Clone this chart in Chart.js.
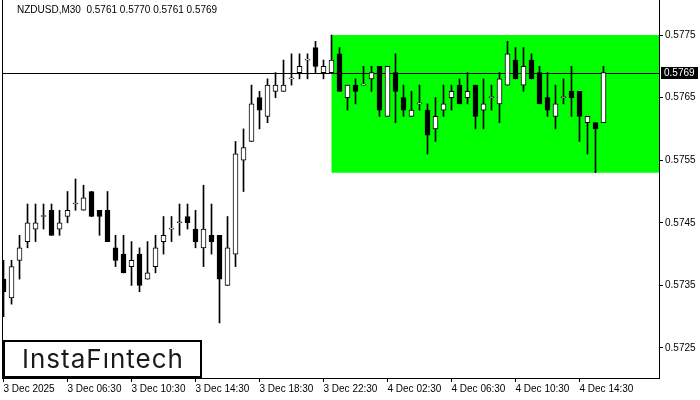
<!DOCTYPE html>
<html>
<head>
<meta charset="utf-8">
<script src="https://cdn.jsdelivr.net/npm/chart.js@4.4.0/dist/chart.umd.min.js"></script>
<style>
    html, body { margin: 0; padding: 0; background: #fff; }
</style>
</head>
<body>
<canvas id="candleChart" width="700" height="400"></canvas>
<script>
const chartTitle = 'NZDUSD,M30  0.5761 0.5770 0.5761 0.5769';
const logoText = 'InstaF\u0131ntech';

// time labels, one every 8 bars (4 hours of M30)
const xLabels = ['3 Dec 2025', '3 Dec 06:30', '3 Dec 10:30', '3 Dec 14:30', '3 Dec 18:30',
                 '3 Dec 22:30', '4 Dec 02:30', '4 Dec 06:30', '4 Dec 10:30', '4 Dec 14:30'];
const labelEvery = 8;
const yTicks = [0.5725, 0.5735, 0.5745, 0.5755, 0.5765, 0.5775];

const opens  = [0.5736, 0.5733, 0.5739, 0.5742, 0.5744, 0.5746, 0.5747, 0.5744, 0.5746, 0.5748,
                0.5747, 0.5750, 0.5747, 0.5747, 0.5741, 0.5740, 0.5738, 0.5740, 0.5736, 0.5738,
                0.5742, 0.5744, 0.5745, 0.5746, 0.5744, 0.5741, 0.5743, 0.5743, 0.5735, 0.5740,
                0.5755, 0.5758, 0.5765, 0.5762, 0.5766, 0.5766, 0.5768, 0.5769, 0.5771, 0.5773,
                0.5769, 0.5769, 0.5772, 0.5765, 0.5767, 0.5767, 0.5768, 0.5770, 0.5762, 0.5769,
                0.5765, 0.5762, 0.5764, 0.5763, 0.5760, 0.5763, 0.5765, 0.5767, 0.5765, 0.5767,
                0.5763, 0.5765, 0.5764, 0.5767, 0.5771, 0.5767, 0.5771, 0.5769, 0.5765, 0.5762,
                0.5765, 0.5766, 0.5766, 0.5761, 0.5761, 0.5761];
const highs  = [0.5739, 0.5739, 0.5743, 0.5748, 0.5748, 0.5748, 0.5748, 0.5747, 0.5750, 0.5752,
                0.5751, 0.5750, 0.5747, 0.5750, 0.5743, 0.5743, 0.5742, 0.5741, 0.5742, 0.5743,
                0.5746, 0.5746, 0.5748, 0.5748, 0.5747, 0.5751, 0.5748, 0.5743, 0.5746, 0.5758,
                0.5760, 0.5767, 0.5766, 0.5768, 0.5769, 0.5771, 0.5772, 0.5772, 0.5772, 0.5774,
                0.5771, 0.5775, 0.5773, 0.5767, 0.5768, 0.5770, 0.5770, 0.5770, 0.5770, 0.5772,
                0.5767, 0.5766, 0.5767, 0.5764, 0.5765, 0.5767, 0.5767, 0.5768, 0.5769, 0.5767,
                0.5768, 0.5767, 0.5769, 0.5774, 0.5773, 0.5773, 0.5772, 0.5770, 0.5769, 0.5767,
                0.5768, 0.5770, 0.5766, 0.5762, 0.5761, 0.5770];
const lows   = [0.5730, 0.5732, 0.5736, 0.5741, 0.5742, 0.5744, 0.5743, 0.5743, 0.5745, 0.5747,
                0.5747, 0.5746, 0.5743, 0.5742, 0.5738, 0.5737, 0.5735, 0.5734, 0.5736, 0.5737,
                0.5740, 0.5742, 0.5743, 0.5744, 0.5741, 0.5738, 0.5740, 0.5729, 0.5735, 0.5738,
                0.5750, 0.5758, 0.5760, 0.5761, 0.5765, 0.5766, 0.5767, 0.5768, 0.5768, 0.5769,
                0.5768, 0.5769, 0.5766, 0.5763, 0.5764, 0.5767, 0.5766, 0.5762, 0.5762, 0.5761,
                0.5762, 0.5762, 0.5763, 0.5756, 0.5758, 0.5762, 0.5763, 0.5764, 0.5764, 0.5760,
                0.5760, 0.5763, 0.5761, 0.5767, 0.5768, 0.5766, 0.5768, 0.5764, 0.5762, 0.5760,
                0.5764, 0.5762, 0.5758, 0.5756, 0.5753, 0.5761];
const closes = [0.5734, 0.5738, 0.5741, 0.5745, 0.5745, 0.5746, 0.5743, 0.5745, 0.5747, 0.5748,
                0.5749, 0.5746, 0.5746, 0.5742, 0.5739, 0.5737, 0.5739, 0.5735, 0.5737, 0.5741,
                0.5743, 0.5744, 0.5745, 0.5745, 0.5742, 0.5744, 0.5742, 0.5736, 0.5741, 0.5756,
                0.5757, 0.5764, 0.5763, 0.5767, 0.5767, 0.5767, 0.5768, 0.5770, 0.5771, 0.5770,
                0.5770, 0.5771, 0.5766, 0.5767, 0.5766, 0.5767, 0.5769, 0.5763, 0.5770, 0.5766,
                0.5763, 0.5763, 0.5764, 0.5759, 0.5762, 0.5764, 0.5766, 0.5764, 0.5766, 0.5762,
                0.5764, 0.5765, 0.5768, 0.5772, 0.5768, 0.5770, 0.5768, 0.5764, 0.5763, 0.5764,
                0.5765, 0.5765, 0.5762, 0.5762, 0.5760, 0.5769];

// rectangle pattern zone
const zoneStart = 41;
const zoneTop = 0.5775;
const zoneBottom = 0.5753;

const lastClose = closes[closes.length - 1];
const axisFont = { family: 'Liberation Sans', size: 10 };

const overlayPlugin = {
    id: 'mt4Overlay',
    beforeDatasetsDraw(chart) {
        const { ctx, chartArea, scales } = chart;
        ctx.save();
        // green zone
        const x1 = scales.x.getPixelForValue(zoneStart);
        const yT = scales.y.getPixelForValue(zoneTop);
        const yB = scales.y.getPixelForValue(zoneBottom);
        ctx.fillStyle = '#00ff00';
        ctx.fillRect(x1, yT, chartArea.right - x1, yB - yT);
        // bid line
        const yl = Math.round(scales.y.getPixelForValue(lastClose)) + 0.5;
        ctx.strokeStyle = '#000';
        ctx.lineWidth = 1;
        ctx.beginPath();
        ctx.moveTo(chartArea.left, yl);
        ctx.lineTo(chartArea.right, yl);
        // left frame
        ctx.moveTo(chartArea.left + 0.5, chartArea.top);
        ctx.lineTo(chartArea.left + 0.5, chartArea.bottom);
        ctx.stroke();
        ctx.restore();
    },
    afterDraw(chart) {
        const { ctx, chartArea, scales } = chart;
        ctx.save();
        // title
        ctx.fillStyle = '#000';
        ctx.font = '10px "Liberation Sans"';
        ctx.textBaseline = 'middle';
        ctx.textAlign = 'left';
        ctx.fillText(chartTitle, 17, 10);
        // price label on axis
        const yl = Math.round(scales.y.getPixelForValue(lastClose));
        ctx.fillStyle = '#000';
        ctx.fillRect(chartArea.right + 2, yl - 6, 37, 12);
        ctx.fillStyle = '#fff';
        ctx.fillText(lastClose.toFixed(4), chartArea.right + 5, yl + 0.5);
        // logo
        ctx.fillStyle = '#fff';
        ctx.fillRect(4, 341, 197, 36);
        ctx.strokeStyle = '#000';
        ctx.lineWidth = 2;
        ctx.strokeRect(4, 341, 197, 36);
        ctx.fillStyle = '#1a1a1a';
        ctx.font = '400 26px Inter';
        ctx.letterSpacing = '1px';
        ctx.textAlign = 'center';
        ctx.fillText(logoText, 103, 360);
        ctx.restore();
    }
};

const ctx = document.getElementById('candleChart').getContext('2d');

const bodyData = opens.map((o, i) => ({ x: i, y: [o, closes[i]] }));
const wickData = lows.map((l, i) => ({ x: i, y: [l, highs[i]] }));

new Chart(ctx, {
    type: 'bar',
    data: {
        datasets: [
            {
                label: 'body',
                data: bodyData,
                backgroundColor: opens.map((o, i) => closes[i] >= o ? '#ffffff' : '#000000'),
                borderColor: '#000000',
                borderWidth: 1,
                borderSkipped: false,
                barThickness: 5,
                minBarLength: 1,
                grouped: false,
                order: 0
            },
            {
                label: 'wick',
                data: wickData,
                backgroundColor: '#000000',
                borderWidth: 0,
                barThickness: 1,
                grouped: false,
                order: 1
            }
        ]
    },
    options: {
        responsive: false,
        animation: false,
        layout: { padding: { left: 2, top: 0, right: 0, bottom: 0 } },
        plugins: {
            legend: { display: false },
            tooltip: { enabled: false }
        },
        scales: {
            x: {
                type: 'linear',
                offset: false,
                min: -0.19,
                max: 81.94,
                grid: { display: true, drawOnChartArea: false, drawTicks: true, tickLength: 4, color: '#000', offset: false },
                border: { display: true, color: '#000', width: 1 },
                ticks: {
                    autoSkip: false,
                    maxRotation: 0,
                    align: 'start',
                    padding: 1,
                    color: '#000',
                    font: axisFont,
                    callback: (v) => xLabels[v / labelEvery]
                },
                afterBuildTicks: (scale) => {
                    scale.ticks = xLabels.map((_, k) => ({ value: k * labelEvery }));
                },
                afterFit: (scale) => {
                    scale.height = 22;
                    scale.paddingLeft = 0;
                    scale.paddingRight = 0;
                }
            },
            y: {
                position: 'right',
                min: 0.57202,
                max: 0.57806,
                grid: { display: true, drawOnChartArea: false, drawTicks: true, tickLength: 4, color: '#000' },
                border: { display: true, color: '#000', width: 1 },
                ticks: {
                    padding: 2,
                    color: '#000',
                    font: axisFont,
                    callback: (v) => v.toFixed(4)
                },
                afterBuildTicks: (scale) => {
                    scale.ticks = yTicks.map(v => ({ value: v }));
                },
                afterFit: (scale) => {
                    scale.width = 41;
                    scale.paddingTop = 0;
                    scale.paddingBottom = 0;
                }
            }
        }
    },
    plugins: [overlayPlugin]
});
</script>
</body>
</html>
